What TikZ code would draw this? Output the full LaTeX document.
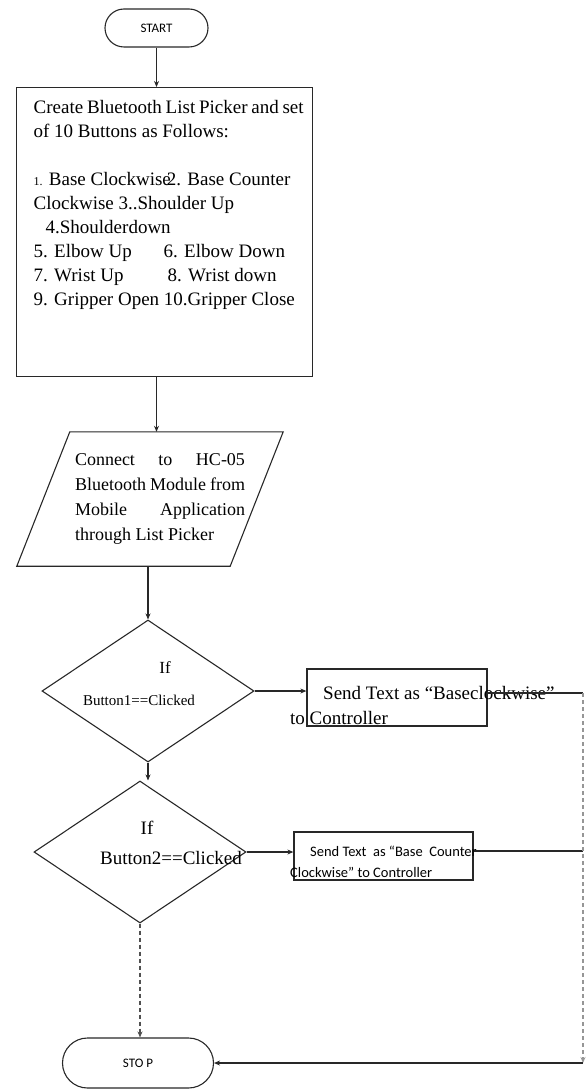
\documentclass[tikz,border=0pt]{standalone}
\usepackage{fontspec}
\setmainfont{Liberation Serif}
\newfontfamily\calfont{Carlito}
\usetikzlibrary{shapes.geometric,shapes.misc,arrows.meta}
\definecolor{linec}{RGB}{40,40,40}
\definecolor{dashc}{RGB}{150,150,150}
\definecolor{dashd}{RGB}{80,80,80}
\begin{document}
\begin{tikzpicture}[x=1pt,y=-1pt,
  every node/.style={inner sep=0pt},
  flow/.style={draw=linec, line width=1.1pt, -{Stealth[length=6pt,width=5pt]}},
  plain/.style={draw=linec, line width=1.1pt},
  terminal/.style={rounded rectangle, draw=linec, line width=1.1pt, font=\calfont\fontsize{13}{13}\selectfont},
  procbox/.style={rectangle, draw=linec, line width=1.3pt},
  iobody/.style={rectangle, minimum width=266pt, minimum height=134pt},
  iooutline/.style={draw=linec, line width=1.1pt, line join=miter},
  decision/.style={diamond, draw=linec, line width=1.1pt, minimum width=212pt, minimum height=142pt},
  serif/.style={font=\fontsize{19}{24}\selectfont},
  sans/.style={font=\calfont\fontsize{14.5}{14.5}\selectfont},
  dashline/.style={dash pattern=on 4pt off 3pt}
]
\useasboundingbox (0,0) rectangle (586,1091);

\node[terminal, minimum width=103pt, minimum height=38pt] (start) at (156.5,28) {START};

\node[procbox, anchor=north west, minimum width=296pt, minimum height=289pt] (create) at (16,87)
 {\parbox[c][289pt][t]{296pt}{\fontsize{19}{24}\selectfont\raggedright\leftskip=17pt
 \rule{0pt}{26pt}\makebox[270pt][s]{Create Bluetooth List Picker and set}\\
 of 10 Buttons as Follows:\\[24pt]
 {\fontsize{12}{12}\selectfont 1.} Base Clockwise\hspace{-4pt}2. Base Counter\\
 Clockwise 3..Shoulder Up\\
 \hspace*{12pt}4.Shoulderdown\\
 \makebox[130pt][l]{5. Elbow Up}6. Elbow Down\\
 \makebox[134pt][l]{7. Wrist Up}8. Wrist down\\
 9. Gripper Open 10.Gripper Close}};

% parallelogram (input/output): text body plus its slanted outline
\node[iobody] (para) at (150,499)
 {\makebox[0pt][l]{\hspace*{-75pt}\parbox{170pt}{\fontsize{18}{25}\selectfont
 \makebox[170pt][s]{Connect to HC-05}\\
 \makebox[170pt][s]{Bluetooth Module from}\\
 \makebox[170pt][s]{Mobile Application}\\
 through List Picker}}};
\draw[iooutline] (para.south west) -- ([xshift=53pt]para.north west) -- (para.north east)
  -- ([xshift=-53pt]para.south east) -- cycle;

\node[decision] (d1) at (148,691) {};
\node[font=\fontsize{17}{17}\selectfont] (d1if) at ([shift={(17,-23)}]d1.center) {If};
\node[font=\fontsize{15}{15}\selectfont] (d1txt) at ([shift={(-9,9)}]d1.center) {Button1==Clicked};

\node[decision] (d2) at (140,852) {};
\node[serif] (d2if) at ([shift={(7,-24)}]d2.center) {If};
\node[serif] (d2txt) at ([shift={(31,6)}]d2.center) {Button2==Clicked};

\node[procbox, minimum width=180pt, minimum height=57pt] (send1) at (397,697.5) {};
\node[serif, anchor=base west] (s1a) at (323,699) {Send Text as “Baseclockwise”};
\node[serif, anchor=base west] (s1b) at (290,724) {to Controller};

\node[procbox, minimum width=179pt, minimum height=48pt] (send2) at (383.5,856) {};
\node[sans, anchor=base west] (s2a) at (310,856) {Send Text\ \ as “Base\ \ Counter};
\node[sans, anchor=base west] (s2b) at (290,877) {Clockwise” to Controller};

\node[terminal, minimum width=151pt, minimum height=50pt] (stop) at (138,1063) {STO P};

\coordinate (r1) at (583,693);
\coordinate (r2) at (583,851);
\coordinate (r3) at (583,1063);

\draw[flow] (start.south) -- (start.south |- create.north);
\draw[flow] (start.south |- create.south) -- (start.south |- para.north);
\draw[flow] (d1.north |- para.south) -- (d1.north);
\draw[flow] (d1.east) -- (send1.west |- d1.east);
\draw[flow] (d1.south) -- (d1.south |- d2.north);
\draw[flow] (d2.east) -- (send2.west |- d2.east);
\draw[plain] (send1.east |- r1) -- (r1);
\draw[plain] (send2.east |- r2) -- (r2);
\draw[flow, dashline, draw=dashc] (r1) -- (r3);
\draw[flow] (r3) -- (stop.east);
\draw[flow, dashline, draw=dashd] (d2.south) -- (d2.south |- stop.north);
\end{tikzpicture}
\end{document}
